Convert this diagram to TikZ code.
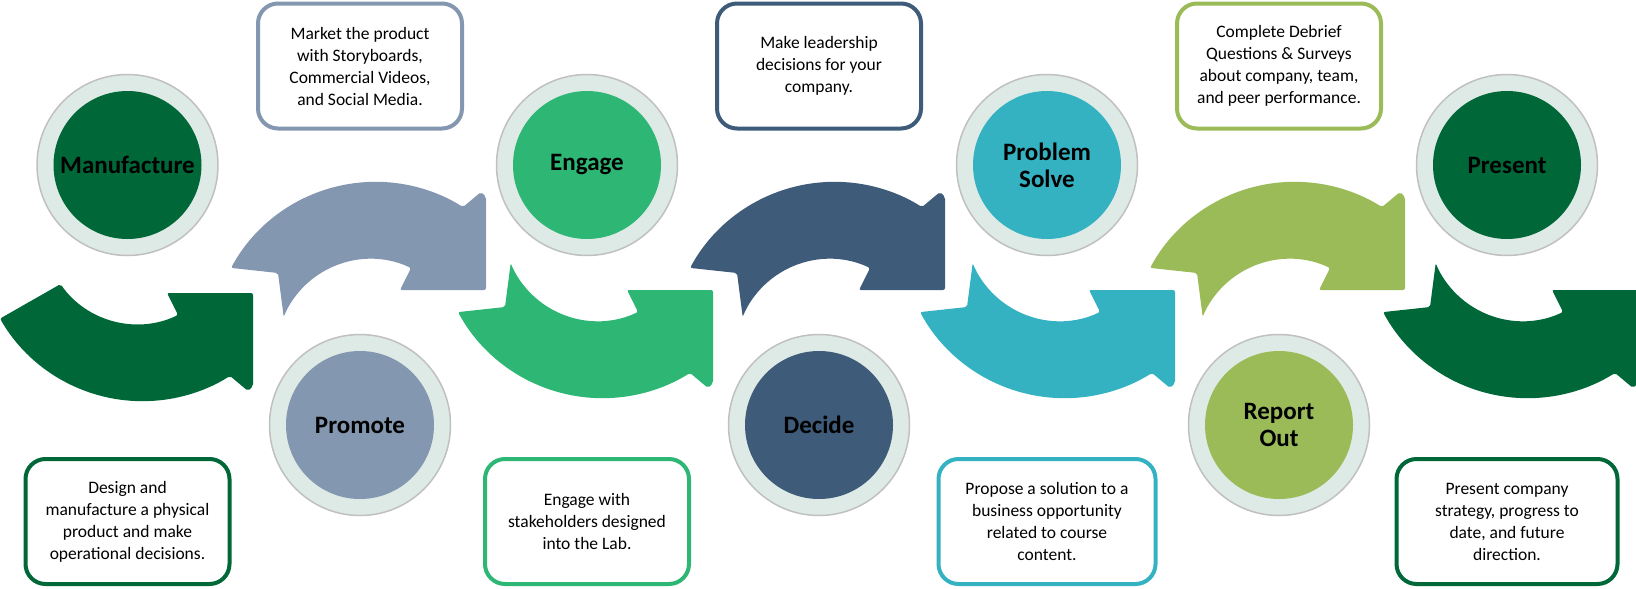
\documentclass[tikz,border=0pt]{standalone}
\usepackage{fontspec}
\setmainfont{Carlito}

\definecolor{deepgreen}{RGB}{0,104,56}
\definecolor{greyblue}{RGB}{132,151,176}
\definecolor{leafgreen}{RGB}{45,182,116}
\definecolor{slateblue}{RGB}{62,92,122}
\definecolor{tealblue}{RGB}{53,178,194}
\definecolor{olivegreen}{RGB}{155,187,89}
\definecolor{ringfill}{RGB}{222,234,230}
\definecolor{ringline}{RGB}{192,192,192}

\begin{document}
\begin{tikzpicture}[x=1pt, y=1pt,
    ring/.style={circle, draw=ringline, line width=1.5pt, fill=ringfill, minimum size=181pt, inner sep=0pt},
    disc/.style={circle, fill=#1, minimum size=148pt, inner sep=0pt, align=center, font=\fontsize{25}{27}\selectfont\bfseries},
    infobox/.style={draw=#1, line width=4pt, rounded corners=20pt, fill=white, minimum width=204pt, minimum height=125pt, inner sep=2pt, align=center, font=\fontsize{17.5}{22}\selectfont},
    pics/bentarrow/.style={code={
        \fill[#1, rounded corners=2pt] (144.5,56) ++(208.4:164.2) arc[start angle=208.4, end angle=302.2, radius=164.2]
            -- (250,-98) -- (255,-93) -- (255,0) -- (169,0) -- (180,-22)
            arc[start angle=295.5, end angle=202.5, radius=94] -- (47,-17) -- cycle;
    }}]
    \useasboundingbox (0,0) rectangle (1636,-589);

    % curved arrows
    \begin{scope}[shift={(-2,-293)}]
        \fill[deepgreen, rounded corners=2pt] (144.5,56) ++(209.8:164.2) arc[start angle=209.8, end angle=302.2, radius=164.2]
            -- (250,-98) -- (255,-93) -- (255,0) -- (169,0) -- (180,-22)
            arc[start angle=295.5, end angle=215, radius=94] -- cycle;
    \end{scope}
    \pic[yscale=-1] at (231,-290) {bentarrow=greyblue};
    \pic at (458,-290) {bentarrow=leafgreen};
    \pic[yscale=-1] at (690,-290) {bentarrow=slateblue};
    \pic at (920,-290) {bentarrow=tealblue};
    \pic[yscale=-1] at (1150,-290) {bentarrow=olivegreen};
    \pic at (1383,-290) {bentarrow=deepgreen};

    % steps
    \node[ring] (manufacture ring) at (127.5,-165) {};
    \node[disc=deepgreen] (manufacture) at (manufacture ring) {Manufacture};
    \node[ring] (promote ring) at (360,-425) {};
    \node[disc=greyblue] (promote) at (promote ring) {Promote};
    \node[ring] (engage ring) at (587,-165) {};
    \node[disc=leafgreen] (engage) at (engage ring) {Engage};
    \node[ring] (decide ring) at (819,-425) {};
    \node[disc=slateblue] (decide) at (decide ring) {Decide};
    \node[ring] (solve ring) at (1047,-165) {};
    \node[disc=tealblue] (solve) at (solve ring) {Problem\\Solve};
    \node[ring] (report ring) at (1279,-425) {};
    \node[disc=olivegreen] (report) at (report ring) {Report\\Out};
    \node[ring] (present ring) at (1507,-165) {};
    \node[disc=deepgreen] (present) at (present ring) {Present};

    % descriptions
    \node[infobox=deepgreen] (manufacture box) at (manufacture |- 0,-521.5) {Design and\\manufacture a physical\\product and make\\operational decisions.};
    \node[infobox=greyblue] (promote box) at (promote |- 0,-66) {Market the product\\with Storyboards,\\Commercial Videos,\\and Social Media.};
    \node[infobox=leafgreen] (engage box) at (engage |- 0,-521.5) {Engage with\\stakeholders designed\\into the Lab.};
    \node[infobox=slateblue] (decide box) at (decide |- 0,-66) {Make leadership\\decisions for your\\company.};
    \node[infobox=tealblue, minimum width=217pt] (solve box) at (solve |- 0,-521.5) {Propose a solution to a\\business opportunity\\related to course\\content.};
    \node[infobox=olivegreen] (report box) at (report |- 0,-66) {Complete Debrief\\Questions \& Surveys\\about company, team,\\and peer performance.};
    \node[infobox=deepgreen, minimum width=221pt] (present box) at (present |- 0,-521.5) {Present company\\strategy, progress to\\date, and future\\direction.};
\end{tikzpicture}
\end{document}
